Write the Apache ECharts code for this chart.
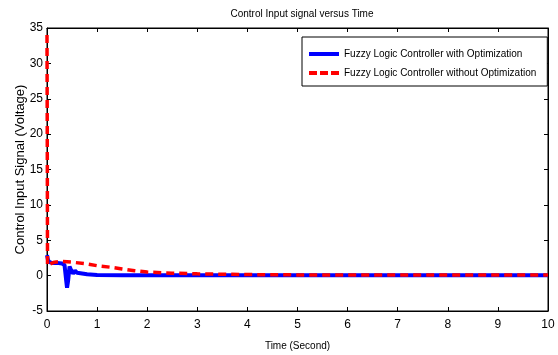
<!DOCTYPE html>
<html><head><meta charset="utf-8">
<script src="https://cdn.jsdelivr.net/npm/echarts@6/dist/echarts.min.js"></script>
<style>html,body{margin:0;padding:0;background:#fff}#c{width:558px;height:355px}</style>
</head><body><div id="c"></div>
<script>
const xTicks = [0,1,2,3,4,5,6,7,8,9,10];
const yTicks = [-5,0,5,10,15,20,25,30,35];
const tBlue = [0,0.02,0.05,0.1,0.2,0.3,0.35,0.38,0.4,0.42,0.45,0.48,0.52,0.56,0.6,0.7,0.8,1,1.5,2,3,4,5,6,7,8,9,10];
const vBlue = [2.9,2.2,1.9,1.8,1.8,1.7,1.5,-0.5,-1.7,-0.8,1.3,0.8,0.3,0.7,0.4,0.3,0.2,0.1,0.05,0.05,0.05,0.05,0.05,0.05,0.05,0.05,0.05,0.05];
const tRed = [0,0.005,0.01,0.05,0.15,0.3,0.5,0.75,1,1.25,1.5,1.75,2,2.5,3,4,5,6,7,8,9,10];
const vRed = [34,20,1.4,1.6,1.9,2.0,1.9,1.7,1.4,1.2,0.95,0.7,0.5,0.35,0.25,0.15,0.1,0.1,0.1,0.1,0.1,0.1];
const seriesNames = ['Fuzzy Logic Controller with Optimization','Fuzzy Logic Controller without Optimization'];

const chart = echarts.init(document.getElementById('c'));
const font = '"Liberation Sans", Arial, sans-serif';
const tickStyle = {inside:true,length:4,lineStyle:{color:'#000',width:1}};
chart.setOption({
  animation:false,
  title:{text:'Control Input signal versus Time',left:297,textAlign:'center',top:4,
    textStyle:{fontFamily:font,fontSize:10,fontWeight:'normal',color:'#000'}},
  grid:{left:47,right:10,top:28,bottom:44,show:true,borderColor:'#000',borderWidth:1,backgroundColor:'#fff',
    containLabel:false,outerBoundsMode:'none'},
  legend:{left:302,top:37,orient:'vertical',itemWidth:30,itemHeight:4,itemGap:9,symbolKeepAspect:false,
    padding:[12,11,8,7],borderColor:'#000',borderWidth:1,backgroundColor:'#fff',
    textStyle:{fontFamily:font,fontSize:10,color:'#000'},
    data:[{name:seriesNames[0],icon:'rect'},
          {name:seriesNames[1],icon:'path://M0,0h8v4h-8z M11,0h8v4h-8z M22,0h8v4h-8z'}]},
  xAxis:[{type:'value',min:0,max:10,interval:1,name:'Time (Second)',nameLocation:'middle',nameGap:30,
    nameMoveOverlap:false,
    nameTextStyle:{fontFamily:font,fontSize:10,color:'#000'},
    axisLine:{show:true,onZero:false,lineStyle:{color:'#000'}},axisTick:tickStyle,
    axisLabel:{fontFamily:font,fontSize:12,color:'#000',margin:8},splitLine:{show:false}},
   {type:'value',position:'top',min:0,max:10,interval:1,axisLine:{show:true,onZero:false,lineStyle:{color:'#000'}},
    axisTick:tickStyle,axisLabel:{show:false},splitLine:{show:false}}],
  yAxis:[{type:'value',min:-5,max:35,interval:5,name:'Control Input Signal (Voltage)',nameLocation:'middle',nameGap:20,
    nameMoveOverlap:false,
    nameTextStyle:{fontFamily:font,fontSize:13,color:'#000'},
    axisLine:{show:true,onZero:false,lineStyle:{color:'#000'}},axisTick:tickStyle,
    axisLabel:{fontFamily:font,fontSize:12,color:'#000',margin:4},splitLine:{show:false}},
   {type:'value',position:'right',min:-5,max:35,interval:5,axisLine:{show:true,onZero:false,lineStyle:{color:'#000'}},
    axisTick:tickStyle,axisLabel:{show:false},splitLine:{show:false}}],
  series:[
    {name:seriesNames[0],type:'line',symbol:'none',data:tBlue.map((t,i)=>[t,vBlue[i]]),
      lineStyle:{color:'#0000ff',width:4},itemStyle:{color:'#0000ff'},z:2},
    {name:seriesNames[1],type:'line',symbol:'none',data:tRed.map((t,i)=>[t,vRed[i]]),
      lineStyle:{color:'#ff0000',width:3.5,type:[8,5]},itemStyle:{color:'#ff0000'},z:3}
  ]
});
</script></body></html>
